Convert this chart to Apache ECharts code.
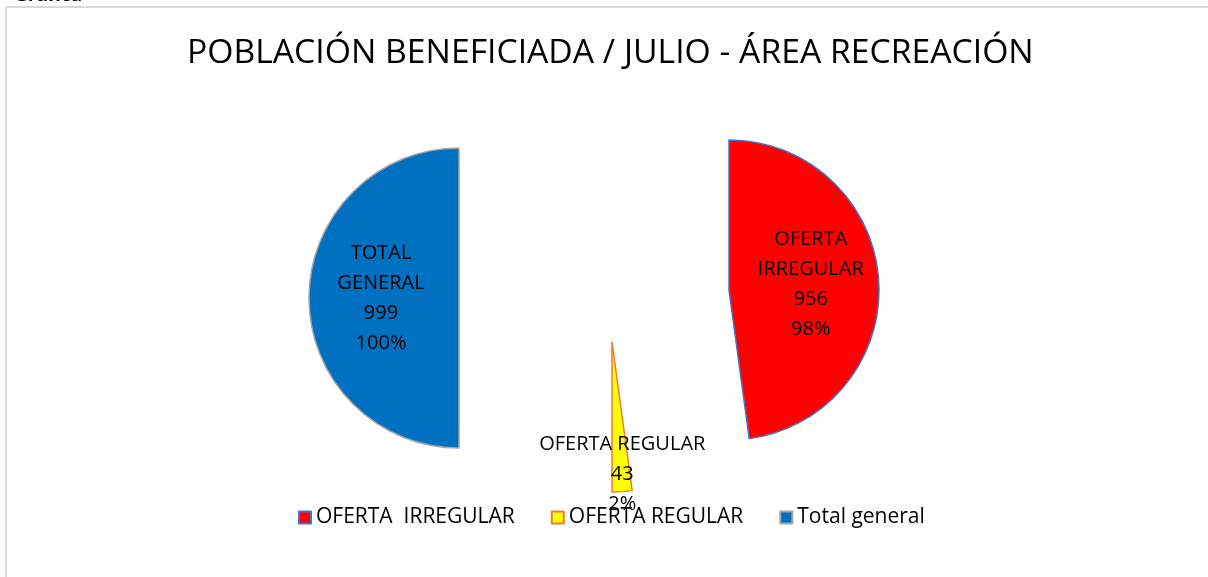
<!DOCTYPE html>
<html>
<head>
<meta charset="utf-8">
<script src="https://cdn.jsdelivr.net/npm/echarts@6/dist/echarts.min.js"></script>
<style>
  html, body { margin: 0; padding: 0; background: #fff; }
  #chart { width: 1208px; height: 577px; }
</style>
</head>
<body>
<div id="chart"></div>
<script>
// datos
const categories = ['OFERTA  IRREGULAR', 'OFERTA REGULAR', 'Total general']
const values = [956, 43, 999]
const sliceLabels = ['OFERTA\nIRREGULAR', 'OFERTA REGULAR', 'TOTAL\nGENERAL']
const pctLabels = ['98%', '2%', '100%']

const fills = ['#FF0000', '#FFFF00', '#0070C0']
const borders = ['#4472C4', '#ED7D31', '#A5A5A5']
// cada porción "explotada" se dibuja en su propia serie con su propio centro
const centers = [[729, 290], [612, 342], [459, 298]]
const labelShift = [[4, 0], [5, 54], [0, 0]]

const FONT = 'Open Sans'

function sliceSeries(k) {
  return {
    type: 'pie',
    silent: true,
    radius: 150,
    center: centers[k],
    startAngle: 90,
    clockwise: true,
    avoidLabelOverlap: false,
    labelLayout: { dx: labelShift[k][0], dy: labelShift[k][1] },
    data: categories.map((name, i) => ({
      name,
      value: values[i],
      itemStyle: i === k
        ? { color: fills[i], borderColor: borders[i], borderWidth: 1.5 }
        : { color: 'rgba(0,0,0,0)', borderWidth: 0 },
      label: i === k
        ? {
            show: true,
            position: 'inside',
            formatter: sliceLabels[i] + '\n' + values[i] + '\n' + pctLabels[i],
            color: '#000',
            fontFamily: FONT,
            fontSize: 20,
            lineHeight: 30,
            align: 'center'
          }
        : { show: false },
      labelLine: { show: false }
    }))
  }
}

const chart = echarts.init(document.getElementById('chart'))
chart.setOption({
  animation: false,
  backgroundColor: '#fff',
  title: {
    text: 'POBLACIÓN BENEFICIADA / JULIO - ÁREA RECREACIÓN',
    left: 182,
    top: 31,
    textStyle: { fontFamily: FONT, fontSize: 33.7, fontWeight: 'normal', color: '#000' }
  },
  legend: {
    left: 298,
    top: 507,
    padding: 0,
    icon: 'rect',
    itemWidth: 12,
    itemHeight: 12,
    itemGap: 36,
    textStyle: { fontFamily: FONT, fontSize: 21, color: '#000' },
    data: categories.map((name, i) => ({
      name,
      itemStyle: { color: fills[i], borderColor: borders[i], borderWidth: 2 }
    }))
  },
  graphic: [
    { type: 'line', shape: { x1: 6, y1: 7, x2: 1208, y2: 7 }, style: { stroke: '#d9d9d9', lineWidth: 2 } },
    { type: 'line', shape: { x1: 6, y1: 7, x2: 6, y2: 577 }, style: { stroke: '#d9d9d9', lineWidth: 2 } },
    { type: 'text', left: 14, top: -14, style: { text: 'Gráfica', font: 'bold 19px "Open Sans"', fill: '#000' } }
  ],
  series: [sliceSeries(0), sliceSeries(1), sliceSeries(2)]
})
</script>
</body>
</html>
